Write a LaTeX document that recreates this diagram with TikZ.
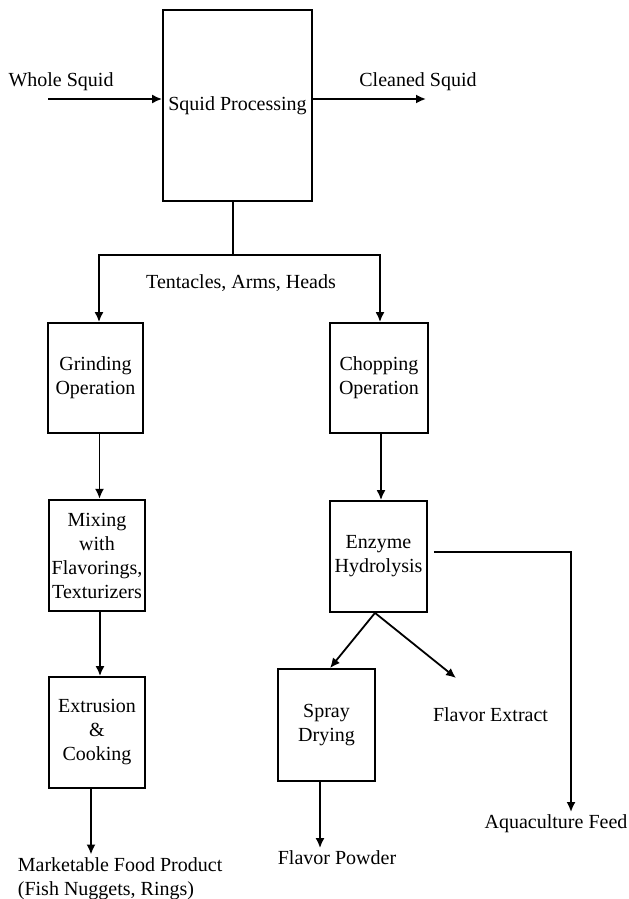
\documentclass[tikz,border=0pt]{standalone}
\usepackage{fontspec}
\setmainfont{Liberation Serif}
\usetikzlibrary{arrows.meta}
\begin{document}
\begin{tikzpicture}[x=0.5pt,y=-0.5pt,>={Latex[length=5pt,width=4.5pt]},line width=0.9pt,
  font=\rmfamily\fontsize{10pt}{12pt}\selectfont,
  stepbox/.style={draw,line width=0.9pt,align=center,inner sep=0pt},
  lbl/.style={inner sep=1pt,align=left}]
\useasboundingbox (0,0) rectangle (628,899);
%%
  % Node: processing
  \node [stepbox,minimum width=74.5pt,minimum height=95.5pt] (proc) at (237.5,105.5) {Squid Processing};
  \node [lbl] (whole) at (61,82) {Whole Squid};
  \node [lbl] (cleaned) at (418,82) {Cleaned Squid};
  \coordinate (win) at (48,99);
  \coordinate (cout) at (426,99);
  % Node: left branch
  \node [stepbox,minimum width=47.5pt,minimum height=55pt] (grind) at (95.5,378) {Grinding\\Operation};
  \node [stepbox,minimum width=48pt,minimum height=55.5pt,line width=1.2pt] (mix) at (97,555.5) {Mixing\\with\\Flavorings,\\Texturizers};
  \node [stepbox,minimum width=48pt,minimum height=55.5pt] (extr) at (97,732.5) {Extrusion\\\&\\Cooking};
  \node [lbl] (market) at (15,878.5) [anchor=west] {Marketable Food Product\\(Fish Nuggets, Rings)};
  % Node: right branch
  \node [stepbox,minimum width=49pt,minimum height=55pt] (chop) at (379,378) {Chopping\\Operation};
  \node [stepbox,minimum width=48.5pt,minimum height=55.5pt] (enz) at (378.5,556.5) {Enzyme\\Hydrolysis};
  \node [stepbox,minimum width=48.5pt,minimum height=56pt] (spray) at (326.5,725) {Spray\\Drying};
  \node [lbl] (powder) at (337,858) {Flavor Powder};
  \node [lbl] (extract) at (490.5,715) {Flavor Extract};
  \node [lbl] (aqua) at (556,824) {Aquaculture Feed};
  \coordinate (extip) at (456,678);
  \coordinate (aqcorner) at (571,552);
  % Node: split
  \coordinate (split) at (233,255);
  \node [lbl] (tent) at (241,283) {Tentacles, Arms, Heads};
%%
  % Edge: whole -> proc -> cleaned
  \draw [->] (win) -- (win -| proc.west);
  \draw [->] (cout -| proc.east) -- (cout);
  % Edge: proc -> grind, chop
  \draw (split |- proc.south) -- (split);
  \draw [->] (split) -| ([xshift=1.75pt]grind.north);
  \draw [->] (split) -| ([xshift=0.5pt]chop.north);
  % Edge: grind -> mix -> extr -> market
  \draw [->] ([xshift=2pt]grind.south) -- ([xshift=2pt]grind.south |- mix.north);
  \draw [->] ([xshift=1.5pt]mix.south) -- ([xshift=1.5pt]mix.south |- extr.north);
  \draw [->] ([xshift=-3pt]extr.south) -- ([xshift=-3pt]extr.south |- market.north);
  % Edge: chop -> enz -> spray, extract, aqua
  \draw [->] ([xshift=1pt]chop.south) -- ([xshift=1pt]chop.south |- enz.north);
  \draw [->] ([xshift=-1.75pt]enz.south) -- ([xshift=1.75pt]spray.north);
  \draw [->] ([xshift=-1.75pt]enz.south) -- (extip);
  \draw [->] ([xshift=3pt]enz.east |- aqcorner) -- (aqcorner) -- (aqcorner |- aqua.north);
  % Edge: spray -> powder
  \draw [->] ([xshift=-3.25pt]spray.south) -- ([xshift=-3.25pt]spray.south |- powder.north);
%
\end{tikzpicture}
\end{document}
